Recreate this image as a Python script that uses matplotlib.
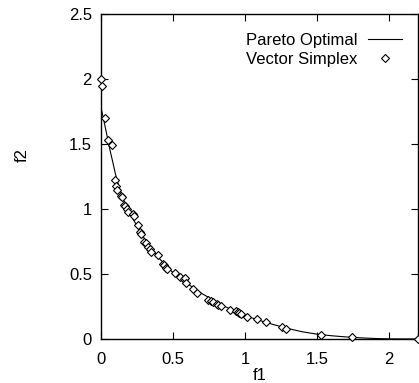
import matplotlib
matplotlib.use("Agg")
import matplotlib.pyplot as plt
from matplotlib.ticker import FixedLocator, FuncFormatter

# Pareto front (f1, f2)
pareto_f1 = [0.0, 0.01, 0.02, 0.035, 0.05, 0.065, 0.08, 0.1, 0.125, 0.15,
             0.175, 0.2, 0.25, 0.3, 0.35, 0.4, 0.45, 0.5, 0.6, 0.7, 0.8,
             0.9, 1.0, 1.1, 1.2, 1.3, 1.4, 1.5, 1.6, 1.7, 1.8, 1.9, 2.0, 2.2]
pareto_f2 = [1.78, 1.73, 1.68, 1.60, 1.52, 1.44, 1.37, 1.27, 1.17, 1.09,
             1.02, 0.965, 0.87, 0.775, 0.695, 0.625, 0.565, 0.51, 0.425, 0.35,
             0.285, 0.228, 0.18, 0.143, 0.11, 0.08, 0.055, 0.037, 0.025, 0.016,
             0.009, 0.004, 0.001, 0.0]

# Solutions found by the vector simplex method
simplex_f1 = [0.0, 0.007, 0.026, 0.05, 0.077, 0.095, 0.102, 0.11, 0.14, 0.145,
              0.158, 0.165, 0.18, 0.19, 0.22, 0.227, 0.257, 0.269, 0.275, 0.30,
              0.31, 0.326, 0.338, 0.345, 0.396, 0.43, 0.44, 0.454, 0.46, 0.512,
              0.547, 0.574, 0.585, 0.593, 0.639, 0.667, 0.743, 0.76, 0.778, 0.806,
              0.815, 0.836, 0.894, 0.94, 0.95, 0.96, 0.975, 1.01, 1.08, 1.144,
              1.253, 1.283, 1.53, 1.739, 2.2]
simplex_f2 = [2.0, 1.95, 1.70, 1.53, 1.49, 1.22, 1.18, 1.15, 1.10, 1.09,
              1.03, 1.02, 1.00, 0.98, 0.96, 0.95, 0.877, 0.825, 0.81, 0.75,
              0.74, 0.71, 0.69, 0.67, 0.646, 0.58, 0.57, 0.544, 0.54, 0.505,
              0.48, 0.459, 0.47, 0.428, 0.382, 0.351, 0.30, 0.295, 0.287, 0.269,
              0.265, 0.254, 0.223, 0.215, 0.205, 0.20, 0.192, 0.172, 0.152, 0.128,
              0.09, 0.075, 0.031, 0.018, 0.0]

x_ticks = [0, 0.5, 1, 1.5, 2]
y_ticks = [0, 0.5, 1, 1.5, 2, 2.5]

plt.rcParams['font.family'] = ['Liberation Sans', 'DejaVu Sans']
FS = 12

W, H = 419, 383
fig = plt.figure(figsize=(W / 100, H / 100), dpi=100)
ax = fig.add_axes([101 / W, 1 - 339 / H, 317 / W, 325 / H])

ax.plot(pareto_f1, pareto_f2, color='black', lw=0.8, label='Pareto Optimal',
        zorder=2)
ax.plot(simplex_f1, simplex_f2, linestyle='none', marker='D', ms=3.6,
        mfc='white', mec='black', mew=0.8, label='Vector Simplex',
        clip_on=False, zorder=3)

ax.set_xlim(0, 2.2)
ax.set_ylim(0, 2.5)
ax.xaxis.set_major_locator(FixedLocator(x_ticks))
ax.yaxis.set_major_locator(FixedLocator(y_ticks))
fmt = FuncFormatter(lambda v, p: '%g' % v)
ax.xaxis.set_major_formatter(fmt)
ax.yaxis.set_major_formatter(fmt)

ax.tick_params(direction='in', length=5, width=0.8, top=True, right=True,
               labelsize=FS, colors='black')
ax.tick_params(axis='x', pad=9.0)
ax.tick_params(axis='y', pad=6.5)
for s in ax.spines.values():
    s.set_linewidth(1.0)

ax.set_xlabel('f1', fontsize=FS, labelpad=1)
ax.set_ylabel('f2', fontsize=FS)
ax.yaxis.set_label_coords(-0.225, 0.566)

leg = ax.legend(loc='upper right', bbox_to_anchor=(0.948, 0.941),
                frameon=False, fontsize=FS, markerfirst=False,
                handlelength=2.0, handletextpad=0.65, labelspacing=0.2,
                borderpad=0, borderaxespad=0)

fig.savefig('out.png', dpi=100)
